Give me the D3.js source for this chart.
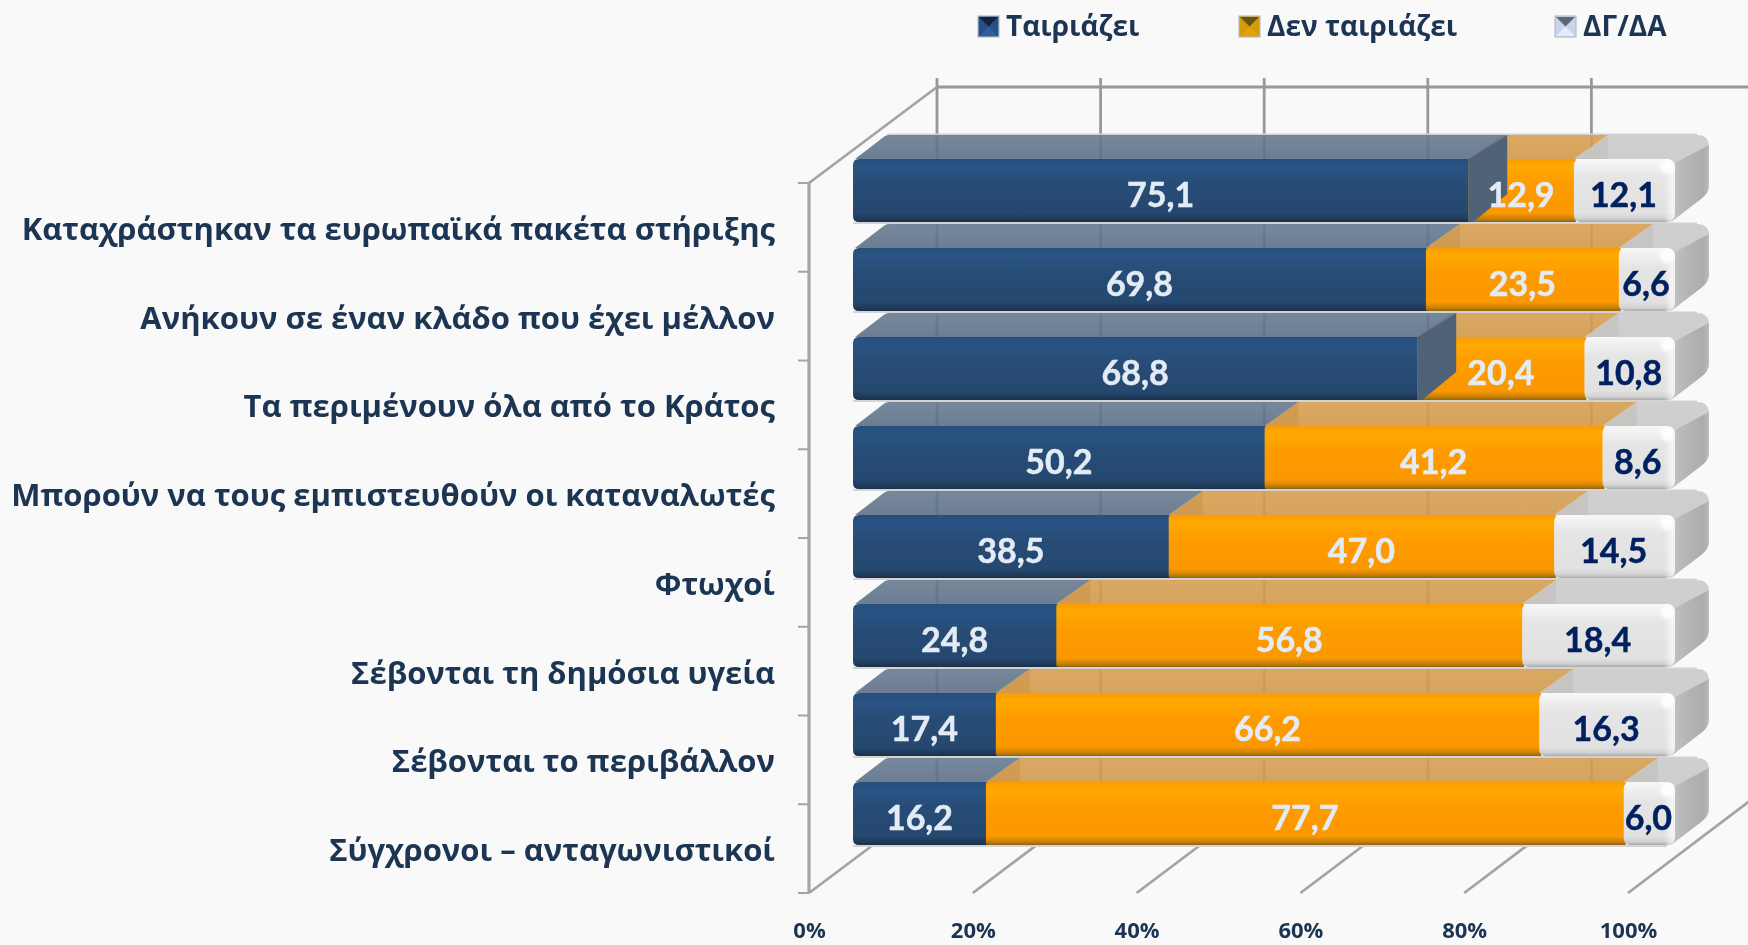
<!DOCTYPE html>
<html><head><meta charset="utf-8">
<style>html,body{margin:0;padding:0;background:#f9f9f9;overflow:hidden}svg{display:block;filter:blur(.45px)}text{font-family:"Open Sans",sans-serif;font-weight:700}</style>
<script src="https://cdn.jsdelivr.net/npm/d3@7"></script></head><body>
<svg id="c" width="1748" height="945"></svg>
<script>
const categories = ["Καταχράστηκαν τα ευρωπαϊκά πακέτα στήριξης","Ανήκουν σε έναν κλάδο που έχει μέλλον","Τα περιμένουν όλα από το Κράτος","Μπορούν να τους εμπιστευθούν οι καταναλωτές","Φτωχοί","Σέβονται τη δημόσια υγεία","Σέβονται το περιβάλλον","Σύγχρονοι – ανταγωνιστικοί"];
const seriesNames = ["Ταιριάζει","Δεν ταιριάζει","ΔΓ/ΔΑ"];
const fits = [75.1,69.8,68.8,50.2,38.5,24.8,17.4,16.2];
const notFits = [12.9,23.5,20.4,41.2,47.0,56.8,66.2,77.7];
const dkna = [12.1,6.6,10.8,8.6,14.5,18.4,16.3,6.0];
const axisTicks = [0,20,40,60,80,100];
const rowsWithRaisedEnd = ["Καταχράστηκαν τα ευρωπαϊκά πακέτα στήριξης","Τα περιμένουν όλα από το Κράτος"];

const table = categories.map((c,i)=>({cat:c,[seriesNames[0]]:fits[i],[seriesNames[1]]:notFits[i],[seriesNames[2]]:dkna[i]}));
const stacked = d3.stack().keys(seriesNames).offset(d3.stackOffsetExpand)(table);

const svg = d3.select("#c");
const defs = svg.append("defs");
function vgrad(id,stops){const g=defs.append("linearGradient").attr("id",id).attr("x1",0).attr("y1",0).attr("x2",0).attr("y2",1);
  stops.forEach(s=>g.append("stop").attr("offset",s[0]).attr("stop-color",s[1]).attr("stop-opacity",s[2]===undefined?1:s[2]));}
function hgrad(id,stops){vgrad(id,stops);defs.select("#"+id).attr("y2",0).attr("x2",1);}
vgrad("front0",[[0,"#274f7b"],[.14,"#2a5485"],[.4,"#274c76"],[.86,"#25486f"],[.95,"#1f3a5a"],[1,"#1c2f47"]]);
vgrad("front1",[[0,"#fb9c00"],[.12,"#ffa900"],[.4,"#fe9b00"],[.86,"#fb9800"],[.95,"#c87f05"],[1,"#8f6414"]]);
vgrad("front2",[[0,"#f8f8f8"],[.12,"#f0f0f0"],[.3,"#e5e5e5"],[.86,"#e1e1e1"],[.95,"#d0d0d0"],[1,"#a9a9a9"]]);
vgrad("top0",[[0,"#687b92"],[1,"#5d7087"]]);
vgrad("top1",[[0,"#d59f52"],[1,"#d2994b"]]);
vgrad("top2",[[0,"#cfcfcf"],[1,"#cbcbcb"]]);
hgrad("rightSide",[[0,"#c2c2c2"],[.45,"#b4b4b4"],[.85,"#acacac"],[1,"#bcbcbc"]]);
hgrad("rightGlow",[[0,"#ffffff",0],[.6,"#ffffff",.5],[1,"#f4f4f4",.9]]);
const glow=defs.append("radialGradient").attr("id","corner");
glow.append("stop").attr("offset",0).attr("stop-color","#fff");
glow.append("stop").attr("offset",.5).attr("stop-color","#fff").attr("stop-opacity",.8);
glow.append("stop").attr("offset",1).attr("stop-color","#fff").attr("stop-opacity",0);

// scales
const xFront = d3.scaleLinear().domain([0,1]).range([853,1673]);
const xFloor = d3.scaleLinear().domain([0,100]).range([809,1628]);
const xBack = d3.scaleLinear().domain([0,100]).range([937,1755]);
const ySlots = d3.scaleBand().domain(categories).range([183,893]);
const yWall = d3.scaleLinear().domain([0,categories.length]).range([183,893]);
const yBars = d3.scaleBand().domain(categories).range([146,858]).paddingInner(26/89).paddingOuter(13/89);
const topDX=34, topDY=24, raisedDX=39, endExtra=2;
const floorY=893, backFloorY=797, backTopY=87;

// walls and grid
const axisCol="#98989c";
const grid=svg.append("g").attr("stroke-linecap","butt").attr("fill","none");
grid.selectAll(".v").data(axisTicks.slice(0,5)).join("line").attr("x1",d=>xBack(d)).attr("x2",d=>xBack(d)).attr("y1",78).attr("y2",backFloorY).attr("stroke",axisCol).attr("stroke-width",2.8);
grid.append("line").attr("x1",xBack(0)).attr("x2",1748).attr("y1",backTopY).attr("y2",backTopY).attr("stroke",axisCol).attr("stroke-width",2.8);
grid.append("line").attr("x1",xFloor(0)).attr("x2",xBack(0)).attr("y1",yWall(0)).attr("y2",backTopY).attr("stroke","#a4a4a6").attr("stroke-width",2.8);
grid.append("line").attr("x1",xFloor(0)).attr("x2",xFloor(0)).attr("y1",yWall(0)).attr("y2",floorY).attr("stroke","#a4a4a8").attr("stroke-width",3.2);
grid.selectAll(".t").data(d3.range(categories.length+1)).join("line").attr("x1",798).attr("x2",xFloor(0)).attr("y1",d=>yWall(d)).attr("y2",d=>yWall(d)).attr("stroke","#a4a4a8").attr("stroke-width",2);
grid.selectAll(".d").data(axisTicks).join("line").attr("x1",d=>xFloor(d)).attr("x2",d=>xBack(d)).attr("y1",floorY).attr("y2",backFloorY).attr("stroke","#a4a4a6").attr("stroke-width",2.8);

// rounded front shape
function frontPath(x0,x1,y0,y1,rl,rr){
  return `M${x0+rl},${y0}L${x1-rr},${y0}Q${x1},${y0} ${x1},${y0+rr}L${x1},${y1-rr}Q${x1},${y1} ${x1-rr},${y1}L${x0+rl},${y1}Q${x0},${y1} ${x0},${y1-rl}L${x0},${y0+rl}Q${x0},${y0} ${x0+rl},${y0}Z`;
}
const bars=svg.append("g");
categories.forEach((cat,i)=>{
  const y0=yBars(cat), y1=y0+yBars.bandwidth();
  const g=bars.append("g");
  const raised=rowsWithRaisedEnd.includes(cat);
  const segs=stacked.map(s=>[xFront(s[i][0]),xFront(s[i][1])]);
  const bE=segs[0][1], oE=segs[1][1], gE=segs[2][1]+endExtra;
  const backY=y0-topDY;
  g.append("rect").attr("x",segs[0][0]+topDX).attr("y",backY-1.5).attr("width",gE-segs[0][0]-12).attr("height",2).attr("fill","#d2d2d2");
  g.append("rect").attr("x",segs[0][0]).attr("y",y1).attr("width",gE-segs[0][0]-8).attr("height",2).attr("fill","#d4d4d6");

  // top faces
  const right=gE+topDX;
  g.append("path").attr("d",`M${oE},${y0}L${oE+topDX},${backY}L${right-12},${backY}Q${right},${backY} ${right},${backY+12}L${right},${backY+50}Q${right},${backY+58} ${right-8},${backY+64}L${gE-4},${y1}L${gE-8},${y0}Z`).attr("fill","url(#top2)");
  g.append("path").attr("d",`M${oE},${y0}L${oE+topDX},${backY}L${oE+topDX},${y0}Z`).attr("fill","#bdb8b0").attr("fill-opacity",.4);
  g.append("path").attr("d",`M${bE},${y0}L${bE+topDX},${backY}L${oE+topDX},${backY}L${oE},${y0}Z`).attr("fill","url(#top1)").attr("fill-opacity",.9);
  g.append("path").attr("d",`M${bE},${y0}L${bE+topDX},${backY}L${bE+topDX},${y0}Z`).attr("fill","#c98a3a").attr("fill-opacity",.35);
  const bDX=raised?raisedDX:topDX;
  g.append("path").attr("d",`M${segs[0][0]+2},${y0}L${segs[0][0]+topDX-2},${backY+1}Q${segs[0][0]+topDX},${backY} ${segs[0][0]+topDX+3},${backY}L${bE+bDX},${backY}L${bE},${y0}Z`).attr("fill","url(#top0)").attr("fill-opacity",.9);

  // right side
  g.append("path").attr("d",`M${gE},${y0+4}L${right},${backY+10}L${right},${backY+50}Q${right},${backY+58} ${right-8},${backY+64}L${gE-3},${y1-1}Z`).attr("fill","url(#rightSide)");

  // front faces
  g.append("path").attr("d",frontPath(segs[0][0],bE+2,y0,y1,6,0)).attr("fill","url(#front0)");
  g.append("path").attr("d",frontPath(bE,oE+2,y0,y1,2,0)).attr("fill","url(#front1)");
  g.append("path").attr("d",frontPath(oE,gE,y0,y1,7,9)).attr("fill","url(#front2)");
  g.append("path").attr("d",frontPath(gE-11,gE,y0,y1,0,9)).attr("fill","url(#rightGlow)");
  g.append("circle").attr("cx",gE-8).attr("cy",y0+8).attr("r",9).attr("fill","url(#corner)");

  if(raised){
    g.append("path").attr("d",`M${bE},${y0}L${bE+raisedDX},${backY}L${bE+raisedDX},${backY+59}L${bE+5},${y1}L${bE},${y1}Z`).attr("fill","#4f6277");
  }
  // value labels
  stacked.forEach((s,k)=>{
    const cx=(segs[k][0]+segs[k][1])/2;
    const col=k===2?"#00205f":"#e3ebf5";
    g.append("text").attr("x",cx).attr("y",y1-15).attr("text-anchor","middle").attr("font-size",34)
      .style("font-family","Lato, 'Open Sans', sans-serif").attr("fill",col).attr("stroke",col).attr("stroke-width",.5)
      .text(d3.format(".1f")(s[i].data[s.key]).replace(".",","));
  });
});

// axes (labels)
const axisX=svg.append("g").attr("transform","translate(0,931)").call(d3.axisBottom(xFloor).tickValues(axisTicks).tickFormat(d=>d+"%").tickSize(0).tickPadding(0));
axisX.select(".domain").remove();
axisX.selectAll("text").attr("y",0).attr("dy","0.34em").attr("fill","#1b3553").style("font-size","22px").style("font-family","'Open Sans',sans-serif");
const axisY=svg.append("g").attr("transform","translate(775,0)").call(d3.axisLeft(ySlots).tickSize(0).tickPadding(0));
axisY.select(".domain").remove();
axisY.selectAll("text").attr("dy","0.4em").attr("fill","#1b3553").style("font-size","31px").style("font-family","'Open Sans',sans-serif");

// legend
const legendMarkerX=d3.scaleOrdinal().domain(seriesNames).range([978,1239,1555]);
const legendCols=[["#12233a","#2f5e9e","#264f88"],["#6a5210","#e6a100","#d5990c"],["#5a6a70","#e4eaff","#c8d4ea"]];
const leg=svg.append("g");
seriesNames.forEach((n,k)=>{
  const x=legendMarkerX(n),y=16,s=21,m=s/2,c=legendCols[k];
  const g=leg.append("g").attr("transform",`translate(${x},${y})`);
  g.append("rect").attr("width",s).attr("height",s).attr("fill",c[2]).attr("stroke","#b8bcc4").attr("stroke-width",1.2);
  g.append("path").attr("d",`M1,1L${s-1},1L${m},${m}Z`).attr("fill",c[0]);
  g.append("path").attr("d",`M1,${s-1}L${s-1},${s-1}L${m},${m}Z`).attr("fill",c[1]);
  g.append("text").attr("x",s+7).attr("y",m-1).attr("dy","0.36em").attr("font-size",28).attr("fill","#1b3553").text(n);
});
</script></body></html>
